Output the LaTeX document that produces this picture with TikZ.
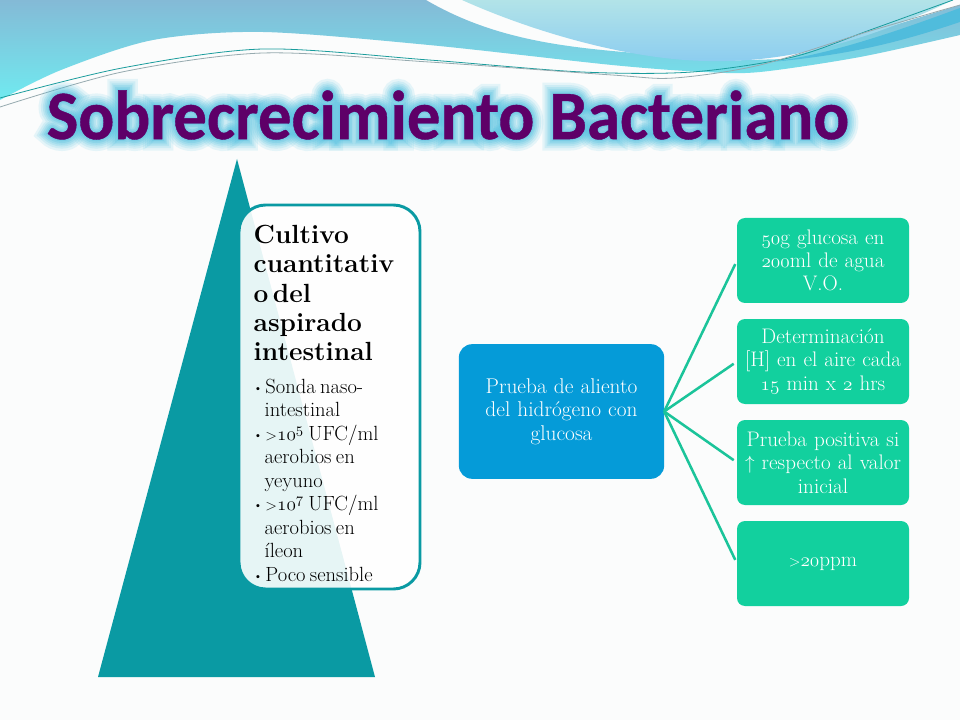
\documentclass[tikz,border=0pt]{standalone}
\usepackage{fontspec}
\usetikzlibrary{positioning}
\newfontfamily\titlefont{Carlito Bold}[FakeBold=.6]
\newfontfamily\glowa{Carlito Bold}[FakeBold=5]
\newfontfamily\glowb{Carlito Bold}[FakeBold=10]
\newfontfamily\glowc{Carlito Bold}[FakeBold=15]
\newfontfamily\glowd{Carlito Bold}[FakeBold=20]
\newfontfamily\glowe{Carlito Bold}[FakeBold=26]
\newfontfamily\glowf{Carlito Bold}[FakeBold=33]
\definecolor{tealtri}{HTML}{0A9AA3}
\definecolor{bluebox}{HTML}{059BD8}
\definecolor{greenbox}{HTML}{12D09E}
\definecolor{linkgreen}{HTML}{1BC49A}
\definecolor{titlepurple}{HTML}{5E0068}
\definecolor{glowblue}{HTML}{4FC0E0}
\definecolor{paper}{HTML}{FBFCFC}
\definecolor{bandtop}{HTML}{84BAD6}
\definecolor{bandlow}{HTML}{70EAF0}
\definecolor{wavetop}{HTML}{B2E3E8}
\definecolor{wavelow}{HTML}{8CCDF0}
\definecolor{streak}{HTML}{50BCDC}
\definecolor{wireteal}{HTML}{1A9C9C}
\definecolor{wiregray}{HTML}{96AAAF}
\tikzset{
    stepbox/.style={rectangle, rounded corners=6pt, fill=greenbox, text=white, align=center,
        minimum width=129pt, minimum height=63.75pt, text width=129pt, inner sep=0pt, outer sep=0pt,
        font=\fontsize{15.8}{17.5}\selectfont},
    link/.style={draw=linkgreen, line width=1.9pt, shorten >=3pt},
    titletext/.style={inner sep=0pt, font=\fontsize{52}{60}\selectfont},
    wire/.style={line width=.6pt}
}
\newcommand{\osn}[1]{\ensuremath{\mathnormal{#1}}}
\newcommand{\gtsign}{{\fontsize{11.5}{11.5}\selectfont>}}
\newcommand{\titletxt}{\scalebox{.965}[1]{Sobrecrecimiento Bacteriano}}
\begin{document}
\begin{tikzpicture}[x=.75pt, y=-.75pt, node distance=12pt]
    \useasboundingbox (0,0) rectangle (960,720);
    \fill[paper] (0,0) rectangle (960,720);
    \shade[top color=bandtop, bottom color=bandlow]
        (0,0) -- (426,0) .. controls (520,55) and (620,48) .. (716,61) -- (784,59) -- (960,5) -- (960,35)
        -- plot[smooth] coordinates {(960,35) (860,57) (760,72) (704,72) (612,65) (429,45) (263,32) (153,40) (61,70) (0,100)} -- cycle;
    \shade[top color=wavetop, bottom color=wavelow]
        (462,0) .. controls (540,35) and (640,62) .. (716,61) .. controls (790,62) and (870,40) .. (953,0) -- cycle;
    \fill[streak] (770,62) .. controls (830,55) and (900,30) .. (960,8) -- (960,22) .. controls (900,42) and (850,55) .. (770,62) -- cycle;
    \draw[wire, wireteal] plot[smooth] coordinates {(0,98) (122,68) (263,49) (429,60) (582,72) (692,72) (793,57) (870,30) (953,0)};
    \draw[wire, wiregray] plot[smooth] coordinates {(0,107) (122,72) (263,53) (429,62) (612,75) (674,78) (760,65) (870,31) (960,5)};
    \node[titletext, text=glowblue, text opacity=.13] (glow6) at (448,115) {\glowf\titletxt};
    \node[titletext, text=glowblue, text opacity=.15] (glow5) at (448,115) {\glowe\titletxt};
    \node[titletext, text=glowblue, text opacity=.18] (glow4) at (448,115) {\glowd\titletxt};
    \node[titletext, text=glowblue, text opacity=.2] (glow3) at (448,115) {\glowc\titletxt};
    \node[titletext, text=glowblue, text opacity=.25] (glow2) at (448,115) {\glowb\titletxt};
    \node[titletext, text=glowblue, text opacity=.3] (glow1) at (448,115) {\glowa\titletxt};
    \node[titletext, text=titlepurple] (title) at (448,115) {\titlefont\titletxt};
    \coordinate (apex) at (237,159);
    \coordinate (baseL) at (98,677);
    \coordinate (baseR) at (375,677);
    \fill[tealtri] (apex) -- (baseR) -- (baseL) -- cycle;
    \node[anchor=north west, rectangle, rounded corners=20pt, draw=tealtri, line width=2.2pt, fill=white, fill opacity=.9, text opacity=1,
        inner xsep=11pt, inner ysep=0pt, outer sep=0pt, text width=113.75pt, minimum height=288pt] (cultivo) at (239,205)
    {\parbox[c][288pt][t]{113.75pt}{\vspace{15pt}
        {\fontsize{19.7}{22}\selectfont\bfseries Cultivo\\cuantitativ\\o del\\aspirado\\intestinal\par}
        \vspace{7pt}
        \fontsize{15.4}{17.6}\selectfont
        \begin{list}{\raisebox{1.5pt}{\footnotesize\textbullet}\hfill}{\setlength{\leftmargin}{8.25pt}\setlength{\labelwidth}{6pt}\setlength{\labelsep}{2.25pt}\setlength{\itemsep}{0pt}\setlength{\parsep}{0pt}\setlength{\topsep}{0pt}\setlength{\partopsep}{0pt}}
            \item Sonda naso-\\intestinal
            \item \gtsign\osn{10}\textsuperscript{\osn{5}} UFC/ml\\aerobios en\\yeyuno
            \item \gtsign\osn{10}\textsuperscript{\osn{7}} UFC/ml\\aerobios en\\íleon
            \item Poco sensible
        \end{list}}};
    \node[rectangle, rounded corners=10pt, fill=bluebox, text=white, align=center, minimum width=154pt, minimum height=101pt, text width=140pt, inner sep=0pt, outer sep=0pt,
        font=\fontsize{16}{17.5}\selectfont] (prueba) at (561.5,411.5) {Prueba de aliento\\del hidrógeno con\\glucosa};
    \node[stepbox, anchor=north west] (dosis) at (737,218) {\osn{50}g glucosa en\\\osn{200}ml de agua\\V.O.};
    \node[stepbox, below=of dosis] (medida) {Determinación\\{[H]} en el aire cada\\\osn{15} min x \osn{2} hrs};
    \node[stepbox, below=of medida] (positiva) {Prueba positiva si\\$\uparrow$ respecto al valor\\inicial};
    \node[stepbox, below=of positiva] (umbral) {\gtsign\osn{20}ppm};
    \draw[link] (prueba.east) -- (dosis.west);
    \draw[link] (prueba.east) -- (medida.west);
    \draw[link] (prueba.east) -- (positiva.west);
    \draw[link] (prueba.east) -- (umbral.west);
\end{tikzpicture}
\end{document}
